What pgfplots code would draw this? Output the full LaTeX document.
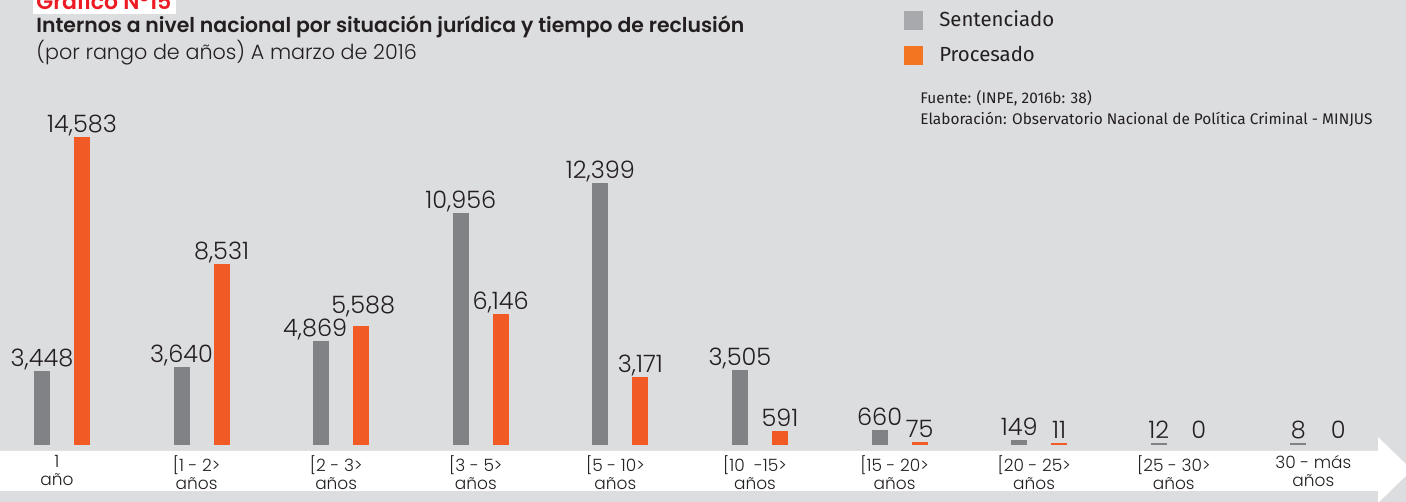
\documentclass[border=0pt]{standalone}
\usepackage{pgfplots}
\pgfplotsset{compat=1.18}
\usepackage{fontspec}
\setmainfont{Poppins}[UprightFont={* Light}, BoldFont={* SemiBold}]
\newfontfamily\dinfont{Fira Sans}
\definecolor{bg}{HTML}{DCDDDF}
\definecolor{sgray}{HTML}{808285}
\definecolor{porange}{HTML}{F15A24}
\definecolor{lgray}{HTML}{A7A9AC}
\definecolor{lorange}{HTML}{F47521}
\definecolor{txt}{HTML}{231F20}
\definecolor{tred}{HTML}{ED1C24}
\begin{document}
\begin{tikzpicture}[x=0.5pt,y=0.5pt]
\useasboundingbox (0,0) rectangle (1406,502);
\clip (0,0) rectangle (1406,502);
\fill[bg] (0,0) rectangle (1406,502);
% white arrow band
\fill[white] (0,51) -- (1378,51) -- (1378,65) -- (1412,32) -- (1378,-1) -- (1378,11) -- (0,11) -- cycle;
\begin{axis}[
  at={(0pt,29pt)}, anchor=south west,
  scale only axis, width=703pt, height=222pt,
  xmin=-0.444, xmax=9.628, ymin=0, ymax=21143,
  axis line style={draw=none}, major tick length=0pt,
  ytick=\empty, xtick={0,...,9},
  xticklabels={{1\\año},{[1 - 2>\\años},{[2 - 3>\\años},{[3 - 5>\\años},{[5 - 10>\\años},{[10 \ -15>\\años},{[15 - 20>\\años},{[20 - 25>\\años},{[25 - 30>\\años},{30 - más\\años}},
  xticklabel style={align=center, inner sep=0pt, yshift=-5.5pt, xshift=-2.5pt, text=txt, font=\fontsize{8.5}{9}\selectfont},
  clip=false,
  /pgf/number format/.cd, assume math mode=true, 1000 sep={,},
  /pgfplots/.cd,
  every node near coord/.append style={font=\fontsize{12}{12}\selectfont, text=txt, inner sep=0pt, anchor=base, yshift=2.5pt},
  legend style={at={(0.643,0.985)}, anchor=north west, draw=none, fill=none, inner sep=0pt,
    font=\dinfont\fontsize{10.2}{11}\selectfont, text=txt, row sep=4pt,
    /tikz/every odd column/.append style={column sep=6pt}},
  legend cell align=left,
]
\addlegendimage{legend image code/.code={\fill[lgray] (0pt,-4.5pt) rectangle (9pt,4.5pt);}}
\addlegendentry{Sentenciado}
\addlegendimage{legend image code/.code={\fill[lorange] (0pt,-4.5pt) rectangle (9pt,4.5pt);}}
\addlegendentry{Procesado}
\addplot[ybar, bar width=7.4pt, bar shift=-10pt, fill=sgray, draw=sgray, line width=0.6pt, nodes near coords,
  every node near coord/.append style={xshift=-10pt},
  coordinate style/.condition={x==2}{xshift=-3pt}] coordinates {
(0,3448) (1,3640) (2,4869) (3,10956) (4,12399) (5,3505) (6,660) (7,149) (8,12) (9,8)};
\addplot[ybar, bar width=7.4pt, bar shift=10pt, fill=porange, draw=porange, line width=0.6pt, nodes near coords,
  every node near coord/.append style={xshift=10pt},
  coordinate style/.condition={x==2}{yshift=4pt, xshift=1pt}] coordinates {
(0,14583) (1,8531) (2,5588) (3,6146) (4,3171) (5,591) (6,75) (7,11)};
\addplot[ybar, bar width=7.4pt, bar shift=10pt, fill=none, draw=none, nodes near coords,
  every node near coord/.append style={xshift=10pt}] coordinates {
(8,0) (9,0)};
\end{axis}
% header
\fill[white] (33,488) rectangle (176,510);
\node[anchor=base west, inner sep=0pt, text=tred, font=\bfseries\fontsize{11}{11}\selectfont] at (36,492) {Gráfico N°15};
\node[anchor=base west, inner sep=0pt, text=txt, font=\bfseries\fontsize{10.2}{10}\selectfont] at (36,469) {Internos a nivel nacional por situación jurídica y tiempo de reclusión};
\node[anchor=base west, inner sep=0pt, text=txt, font=\fontsize{10.35}{10}\selectfont] at (36,442) {(por rango de años) A marzo de 2016};
\node[anchor=base west, inner sep=0pt, text=txt, font=\dinfont\fontsize{7.7}{7.7}\selectfont] at (920,398) {Fuente: (INPE, 2016b: 38)};
\node[anchor=base west, inner sep=0pt, text=txt, font=\dinfont\fontsize{7.7}{7.7}\selectfont] at (920,377) {Elaboración: Observatorio Nacional de Política Criminal - MINJUS};
\end{tikzpicture}
\end{document}
